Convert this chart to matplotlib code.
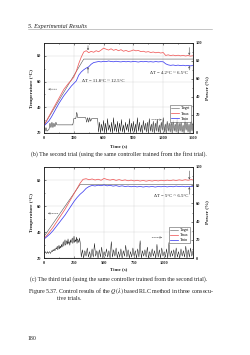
import numpy as np
import matplotlib
matplotlib.use('Agg')
import matplotlib.pyplot as plt
from matplotlib.lines import Line2D

plt.rcParams['font.family'] = ['Liberation Serif', 'DejaVu Serif']
plt.rcParams['mathtext.fontset'] = 'stix'

# ---- trial (b): second trial ----
tempo_b = np.arange(0, 1501, 25)
tmax_b = [26, 29.5, 33, 36.5, 40, 43.5, 47, 50.5, 54, 56.5,
          59, 61, 63.5, 68, 74, 79, 83, 84, 82.5, 83.5,
          82.8, 84, 83.2, 84.5, 86, 85.2, 84.5, 85.5, 84.3, 85,
          84, 84.8, 83.6, 84.2, 83.4, 83.8, 84.6, 83.9, 84.2, 83.3,
          83.6, 82.9, 83.3, 82.6, 83, 82.4, 82.8, 82.2, 82.6, 80.3,
          80.8, 80.2, 80.6, 80.1, 80.5, 80, 80.4, 79.9, 80.3, 79.8,
          80.1]
tmin_b = [25.5, 27.5, 29.5, 32.5, 36, 39.5, 43, 46, 49, 51.5,
          54, 56.5, 58.5, 60.5, 65, 67.5, 69.2, 70.5, 71.5, 73.5,
          74.8, 75.2, 75.6, 75.3, 75.8, 75.5, 76, 75.6, 75.4, 75.8,
          75.5, 75.3, 75.7, 75.4, 75.6, 75.3, 75.7, 75.5, 75.2, 75.6,
          75.4, 75.7, 75.3, 75.5, 75.2, 75.6, 75.3, 75.5, 75.4, 73.8,
          73, 72.6, 72.9, 72.5, 72.8, 72.4, 72.7, 72.3, 72.6, 72.2,
          72.5]
tempo_alvo_b = [0, 400, 1500]
alvo_b = [26, 77.5, 77.5]
tempo_pot_b = np.arange(0, 1501, 10)
pot_b = [7, 2, 6, 2, 3, 4, 11, 6, 12, 6, 11, 7, 12, 9,
         9, 9, 9, 9, 9, 9, 9, 9, 9, 9, 9, 9, 9, 9, 9, 9,
         16, 16, 16, 23,
         17, 17, 17, 17, 17, 17, 17, 17, 17,
         12, 17, 12, 17, 13, 16,
         16, 16, 16, 16, 16, 16,
         1, 12, 0, 10, 2, 14, 1, 11, 0, 16, 3, 9, 1, 12, 0, 17,
         2, 10, 1, 13, 0, 11, 2, 15, 1, 9, 0, 12, 3, 10, 1, 16,
         0, 11, 2, 13, 1, 10, 0, 17, 2, 12, 1, 9, 0, 14, 3, 11,
         1, 12, 0, 16, 2, 10, 1, 13, 0, 11, 2, 15, 1, 9, 0, 12,
         3, 17, 1, 10, 0, 13, 2, 11, 1, 12, 0, 14, 2, 10, 1, 16,
         0, 11, 2, 12, 1, 9, 0, 15, 3, 12, 1, 10, 0, 13, 2, 11]

# ---- trial (c): third trial ----
tempo_c = np.append(np.arange(0, 1226, 25), 1240)
tmax_c = [35, 37.5, 40.5, 43.5, 47, 50.5, 54, 57.5, 61.5, 65.5,
          69.5, 73.5, 77.5, 80.5, 81, 80.2, 80.8, 80, 80.6, 79.8,
          81.2, 80.4, 79.9, 80.5, 79.7, 80.3, 79.6, 80.1, 79.4, 79.9,
          79.3, 79.8, 79.2, 79.7, 79.1, 79.6, 79.2, 79.7, 79.3, 79.8,
          79.4, 79.9, 79.5, 80, 79.6, 80.1, 79.7, 80.2, 79.8, 80.3,
          80]
tmin_c = [34.5, 36.5, 38.5, 41, 44, 47, 50, 53, 56.5, 60,
          63.5, 66.5, 69, 71, 73.5, 75, 75.8, 75.4, 76, 75.6,
          76.2, 75.5, 75.9, 75.3, 75.7, 75.1, 75.5, 75, 75.3, 74.8,
          75.2, 74.7, 75.1, 74.6, 75, 74.7, 75.1, 74.6, 75, 74.8,
          75.2, 74.7, 75.1, 74.8, 75.3, 74.9, 75.2, 74.8, 75.1, 74.9,
          75]
tempo_alvo_c = [0, 300, 1240]
alvo_c = [36.5, 76.5, 76.5]
tempo_pot_c = np.concatenate([np.arange(0, 306, 5), np.arange(310, 1241, 10)])
pot_c = [6, 5, 7, 6, 5, 6, 7, 5, 6, 7, 6, 5, 7,
         8, 7, 9, 8, 10, 8, 9, 11,
         10, 13, 9, 12, 14, 10, 13, 11, 15, 12,
         14, 18, 13, 17, 20, 14, 16, 19, 15, 21, 16, 18, 14, 20, 17, 19,
         22, 16, 19, 24, 17, 20, 18, 23, 16, 21, 19, 17, 22, 18, 12,
         1, 9, 0, 8, 2, 11, 1, 7, 0, 10, 1, 16, 2, 8, 0, 9,
         1, 12, 0, 7, 2, 10, 1, 8, 0, 18, 1, 9, 2, 11, 0, 7,
         1, 10, 0, 8, 2, 14, 1, 9, 0, 7, 1, 11, 2, 8, 0, 10,
         1, 19, 0, 8, 2, 9, 1, 12, 0, 7, 1, 10, 2, 8, 0, 15,
         1, 9, 0, 11, 2, 7, 1, 10, 0, 17, 1, 8, 2, 9, 0, 11,
         1, 7, 0, 10, 2, 8, 1, 13, 0, 9, 1, 11, 2, 8]

W, H = 250, 355


def fx(px):
    return px / W


def fy(py):
    return 1 - py / H


fig = plt.figure(figsize=(W / 100, H / 100), dpi=100)
fig.patch.set_facecolor('white')

cor_txt = '#222222'
cor_red = '#f05a5a'
cor_blue = '#3f3ff0'


def desenha(rect, t, tmax, tmin, t_alvo, alvo, t_pot, pot, xmax, xmaj,
            dt_txt, dt_pos, arrow_l, arrow_r, marks, leg_anchor):
    ax = fig.add_axes(rect)
    ax.plot(t_alvo, alvo, color='#555555', lw=0.4, label='Target', zorder=2)
    ax.plot(t, tmax, color=cor_red, lw=0.55, label='Tmax', zorder=3)
    ax.plot(t, tmin, color=cor_blue, lw=0.55, label='Tmin', zorder=3)
    ax.set_xlim(0, xmax)
    ax.set_ylim(20, 90)
    ax.set_xticks(np.arange(0, xmax + 1, xmaj))
    ax.set_xticks(np.arange(0, xmax + 1, xmaj / 2), minor=True)
    ax.set_yticks([20, 40, 60, 80])
    ax.set_yticks([30, 50, 70, 90], minor=True)
    ax.grid(True, color='#d4d4d4', lw=0.3)
    ax.set_axisbelow(True)
    ax.tick_params(which='both', direction='in', top=True, right=False,
                   width=0.4, labelsize=3.2, colors=cor_txt)
    ax.tick_params(which='major', length=1.6)
    ax.tick_params(which='minor', length=0.9)
    ax.tick_params(axis='x', pad=2.5)
    ax.tick_params(axis='y', pad=1.8)
    for s in ax.spines.values():
        s.set_linewidth(0.5)
        s.set_color('#222222')

    ax2 = ax.twinx()
    ax2.plot(t_pot, pot, color='black', lw=0.3, zorder=2)
    ax2.set_ylim(0, 100)
    ax2.set_yticks(np.arange(0, 101, 20))
    ax2.set_yticks(np.arange(10, 100, 20), minor=True)
    ax2.tick_params(which='both', direction='in', width=0.4, labelsize=3.2,
                    colors=cor_txt, pad=1.8)
    ax2.tick_params(which='major', length=1.6)
    ax2.tick_params(which='minor', length=0.9)
    for s in ax2.spines.values():
        s.set_linewidth(0.5)
        s.set_color('#222222')

    for lbl in (ax.get_xticklabels() + ax.get_yticklabels()
                + ax2.get_yticklabels()):
        lbl.set_fontweight('bold')

    # textos de delta T
    for txt, (xx, yy, ha) in zip(dt_txt, dt_pos):
        ax.text(xx, yy, txt, fontsize=3.4, ha=ha, va='center', color=cor_txt)

    # setas pequenas entre as curvas
    for xx, y0, y1 in marks:
        ax.annotate('', xy=(xx, y1), xytext=(xx, y0),
                    arrowprops=dict(arrowstyle='->', lw=0.35, color='#333333',
                                    shrinkA=0, shrinkB=0, mutation_scale=3))

    # setas apontando para os eixos
    ax.annotate('', xy=(arrow_l[0], arrow_l[2]), xytext=(arrow_l[1], arrow_l[2]),
                arrowprops=dict(arrowstyle='->', lw=0.35, ls=(0, (2, 1.5)),
                                color='#333333', shrinkA=0, shrinkB=0,
                                mutation_scale=3))
    ax2.annotate('', xy=(arrow_r[1], arrow_r[2]), xytext=(arrow_r[0], arrow_r[2]),
                 arrowprops=dict(arrowstyle='->', lw=0.35, ls=(0, (2, 1.5)),
                                 color='#333333', shrinkA=0, shrinkB=0,
                                 mutation_scale=3))

    h, l = ax.get_legend_handles_labels()
    leg = ax2.legend(h, l, loc='lower right', bbox_to_anchor=leg_anchor,
                     fontsize=2.7, frameon=True, fancybox=False,
                     handlelength=2.0, handletextpad=0.5, borderpad=0.35,
                     labelspacing=0.3, borderaxespad=0)
    leg.get_frame().set_edgecolor('#333333')
    leg.get_frame().set_linewidth(0.4)
    return ax, ax2


# grafico de cima (b)
desenha([fx(44), fy(133), fx(193) - fx(44), fy(43) - fy(133)],
        tempo_b, tmax_b, tmin_b, tempo_alvo_b, alvo_b, tempo_pot_b, pot_b,
        1500, 300,
        ['ΔT = 11.8°C ~ 12.5°C', 'ΔT = 4.2°C ~ 6.5°C'],
        [(380, 60.6, 'left'), (1450, 67, 'right')],
        (43, 128, 54.1), (1084, 1185, 14.7),
        [(443, 88, 84.3), (443, 66.5, 71.3), (1462, 86.5, 80.6), (1462, 69, 72.2)],
        (0.987, 0.122))

# grafico de baixo (c)
desenha([fx(44), fy(258), fx(193) - fx(44), fy(167) - fy(258)],
        tempo_c, tmax_c, tmin_c, tempo_alvo_c, alvo_c, tempo_pot_c, pot_c,
        1240, 250,
        ['ΔT = 5°C ~ 6.5°C'],
        [(1198, 68, 'right')],
        (33, 116, 54.4), (899, 982, 22.5),
        [(1209, 87, 80.4), (1209, 69, 74.6)],
        (0.98, 0.16))

# rotulos dos eixos
for ym in (88, 212.5):
    fig.text(fx(31.7), fy(ym), 'Temperature (°C)', rotation=90, ha='center',
             va='center', fontsize=3.7, fontweight='bold', color=cor_txt)
    fig.text(fx(206.7), fy(ym), 'Power (%)', rotation=90, ha='center',
             va='center', fontsize=3.7, fontweight='bold', color=cor_txt)
fig.text(fx(118.5), fy(146), 'Time (s)', ha='center', va='center',
         fontsize=3.5, fontweight='bold', color=cor_txt)
fig.text(fx(118.5), fy(269.5), 'Time (s)', ha='center', va='center',
         fontsize=3.5, fontweight='bold', color=cor_txt)

# texto da pagina
fig.text(fx(28), fy(26.3), '5. Experimental Results', style='italic',
         fontsize=4.4, ha='left', va='center', color=cor_txt)
fig.add_artist(Line2D([fx(28), fx(212)], [fy(29.2), fy(29.2)], lw=0.4,
                      color='#9a9a9a'))
fig.text(fx(119), fy(154.5),
         '(b) The second trial (using the same controller trained from the first trial).',
         fontsize=4.2, ha='center', va='center', color=cor_txt)
fig.text(fx(119), fy(279.5),
         '(c) The third trial (using the same controller trained from the second trial).',
         fontsize=4.2, ha='center', va='center', color=cor_txt)
fig.text(fx(28), fy(291.5),
         'Figure 5.37. Control results of the $Q(\\lambda)$ based RLC method in three consecu-',
         fontsize=4.35, ha='left', va='center', color=cor_txt)
fig.text(fx(56.7), fy(298), 'tive trials.', fontsize=4.35, ha='left',
         va='center', color=cor_txt)
fig.text(fx(28), fy(339), '180', fontsize=4.2, ha='left', va='center',
         color=cor_txt)

fig.savefig('out.png', dpi=100, facecolor='white')
